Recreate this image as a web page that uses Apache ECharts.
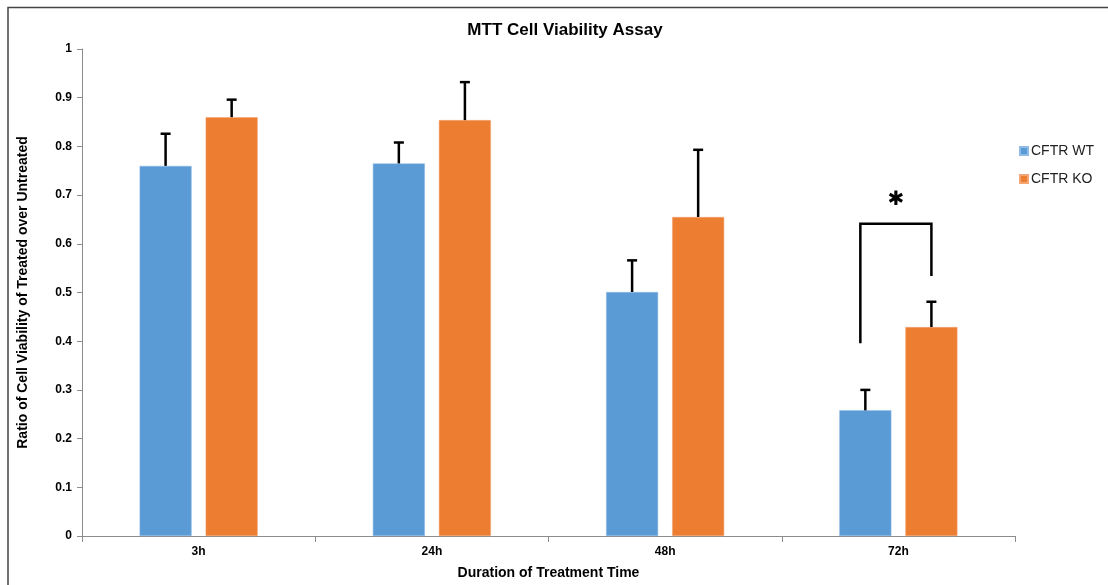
<!DOCTYPE html>
<html>
<head>
<meta charset="utf-8">
<script src="https://cdn.jsdelivr.net/npm/echarts@6/dist/echarts.min.js"></script>
<style>html,body{margin:0;padding:0;background:#fff}#c{width:1108px;height:585px}</style>
</head>
<body>
<div id="c"></div>
<script>
var categories = ['3h', '24h', '48h', '72h'];
var seriesNames = ['CFTR WT', 'CFTR KO'];
var wtValues = [0.760, 0.765, 0.501, 0.258];
var koValues = [0.860, 0.854, 0.655, 0.429];
var wtErrTop = [0.826, 0.808, 0.566, 0.300];
var koErrTop = [0.896, 0.932, 0.793, 0.481];
// significance bracket at 72h: [category index, left bottom, top, right bottom]
var bracket = [[3, 0.396, 0.641, 0.534]];
var sigLabel = '✱';
var yTicks = [0, 0.1, 0.2, 0.3, 0.4, 0.5, 0.6, 0.7, 0.8, 0.9, 1];

var BW = 0.223, GAP = 0.27;
var OFF = (BW + BW * GAP) / 2;

function errSeries(vals, errs, sign, name) {
  var data = vals.map(function (v, i) { return [i, v, errs[i]]; });
  return {
    type: 'custom', name: name + ' err', silent: true, z: 5,
    data: data,
    renderItem: function (params, api) {
      var band = api.size([1, 0])[0];
      var base = api.coord([api.value(0), api.value(1)]);
      var top = api.coord([api.value(0), api.value(2)]);
      var x = base[0] + sign * OFF * band;
      var cap = 5;
      return {
        type: 'group',
        children: [
          { type: 'line', shape: { x1: x, y1: base[1], x2: x, y2: top[1] }, style: { stroke: '#000', lineWidth: 2.5 } },
          { type: 'line', shape: { x1: x - cap, y1: top[1], x2: x + cap, y2: top[1] }, style: { stroke: '#000', lineWidth: 2.5 } }
        ]
      };
    }
  };
}

var chart = echarts.init(document.getElementById('c'));
chart.setOption({
  animation: false,
  backgroundColor: '#fff',
  textStyle: { fontFamily: 'Liberation Sans, Arial, sans-serif' },
  title: {
    text: 'MTT Cell Viability Assay', left: 560, top: 17, textAlign: 'center',
    textStyle: { fontSize: 17, fontWeight: 'bold', color: '#000', fontFamily: 'Liberation Sans, Arial, sans-serif' }
  },
  legend: {
    data: seriesNames, orient: 'vertical', left: 1014, top: 139,
    itemWidth: 8, itemHeight: 8, itemGap: 14, icon: 'rect',
    textStyle: { fontSize: 14, color: '#222', padding: [0, 0, 0, -2] }
  },
  grid: { left: 82, right: 93, top: 49, bottom: 49 },
  xAxis: {
    type: 'category', data: categories,
    axisLine: { lineStyle: { color: '#8c8c8c', width: 1 } },
    axisTick: { show: true, alignWithLabel: false, length: 6, lineStyle: { color: '#8c8c8c' } },
    axisLabel: { fontSize: 12, fontWeight: 'bold', color: '#000', margin: 10 },
    name: 'Duration of Treatment Time', nameLocation: 'middle', nameGap: 30,
    nameTextStyle: { fontSize: 14, fontWeight: 'bold', color: '#000' }
  },
  yAxis: {
    type: 'value', min: 0, max: 1, interval: 0.1,
    axisLine: { show: true, lineStyle: { color: '#8c8c8c', width: 1 } },
    axisTick: { show: true, length: 5, lineStyle: { color: '#8c8c8c' } },
    splitLine: { show: false },
    axisLabel: {
      fontSize: 12, fontWeight: 'bold', color: '#000', margin: 10,
      formatter: function (v) { var t = yTicks.filter(function (k) { return Math.abs(k - v) < 1e-9; }); return t.length ? String(Math.round(t[0] * 10) / 10) : ''; }
    },
    name: 'Ratio of Cell Viability of Treated over Untreated', nameLocation: 'middle', nameGap: 52,
    nameTextStyle: { fontSize: 14, fontWeight: 'bold', color: '#000' }
  },
  series: [
    { name: seriesNames[0], type: 'bar', data: wtValues, barWidth: (BW * 100) + '%', barGap: (GAP * 100) + '%',
      itemStyle: { color: '#5B9BD5', borderColor: '#8fbbe6', borderWidth: 0.5 } },
    { name: seriesNames[1], type: 'bar', data: koValues, barWidth: (BW * 100) + '%',
      itemStyle: { color: '#ED7D31', borderColor: '#f3a676', borderWidth: 0.5 } },
    errSeries(wtValues, wtErrTop, -1, seriesNames[0]),
    errSeries(koValues, koErrTop, 1, seriesNames[1]),
    {
      type: 'custom', name: 'sig', silent: true, z: 6, data: bracket,
      renderItem: function (params, api) {
        var band = api.size([1, 0])[0];
        var i = api.value(0);
        var lb = api.coord([i, api.value(1)]);
        var tp = api.coord([i, api.value(2)]);
        var rb = api.coord([i, api.value(3)]);
        var xl = lb[0] - OFF * band - 5;
        var xr = lb[0] + OFF * band;
        var st = { stroke: '#000', lineWidth: 2.5 };
        return {
          type: 'group',
          children: [
            { type: 'polyline', shape: { points: [[xl, lb[1]], [xl, tp[1]], [xr, tp[1]], [xr, rb[1]]] }, style: { stroke: '#000', lineWidth: 2.5, fill: null } },
            { type: 'text', style: { text: sigLabel, x: (xl + xr) / 2, y: tp[1] - 24, align: 'center', verticalAlign: 'middle', fontSize: 20, fontWeight: 'bold', fill: '#000', fontFamily: 'DejaVu Sans' } }
          ]
        };
      }
    }
  ],
  graphic: [
    { type: 'polyline', silent: true, shape: { points: [[8, 585], [8, 7.5], [1108, 7.5]] }, style: { stroke: '#444', lineWidth: 1.5, fill: null } }
  ]
});
</script>
</body>
</html>
